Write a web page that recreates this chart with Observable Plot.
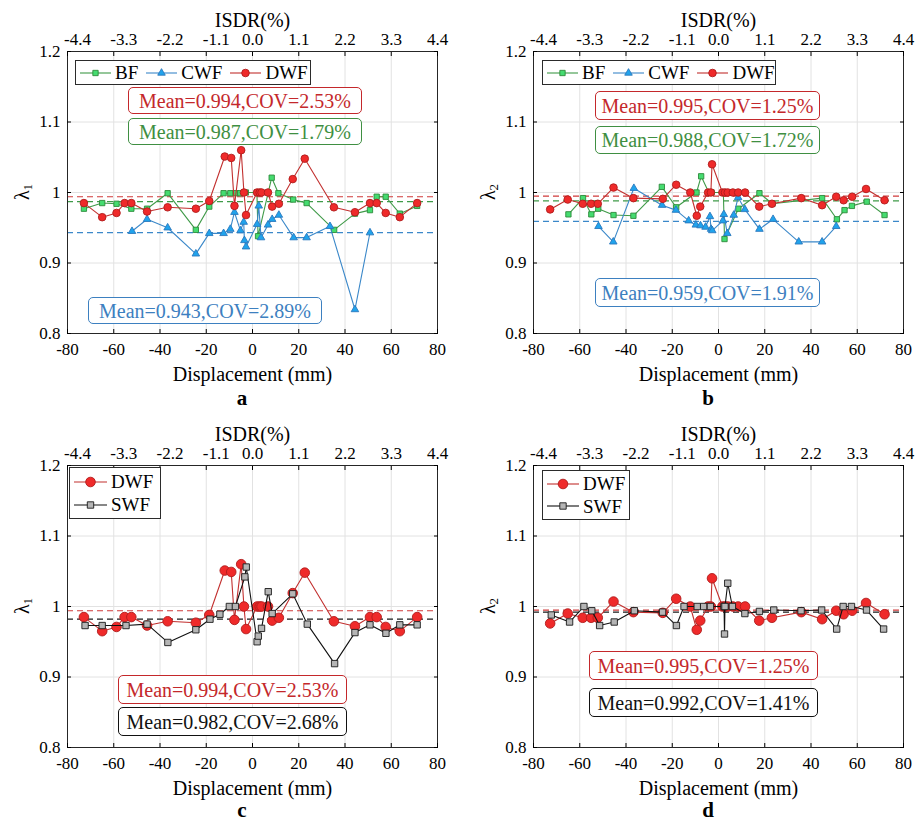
<!DOCTYPE html>
<html>
<head>
<meta charset="utf-8">
<script src="https://cdn.jsdelivr.net/npm/d3@7"></script>
<script src="https://cdn.jsdelivr.net/npm/@observablehq/plot@0.6"></script>
<style>
  body { margin: 0; background: #fff; }
  #fig { position: relative; width: 921px; height: 822px; background: #fff;
         font-family: "Liberation Serif", "Times New Roman", serif; color: #000; overflow: hidden; }
  #fig > svg { position: absolute; overflow: visible; }
  #fig > svg text { font-family: "Liberation Serif", "Times New Roman", serif !important; }
  .note { position: absolute; box-sizing: border-box; border: 1.5px solid; border-radius: 5px;
          background: #fff; font-size: 20px; line-height: 1; white-space: nowrap;
          display: flex; align-items: center; justify-content: center; }
  .legend { position: absolute; box-sizing: border-box; border: 1px solid #2b2b2b; background: #fff;
            display: flex; font-size: 19px; line-height: 1; padding-left: 3px; }
  .legend .item { display: flex; align-items: center; margin-right: 7px; }
  .legend .item svg { margin-right: 3px; }
  .ytitle { position: absolute; font-size: 20px; line-height: 1; transform: translate(-50%, -50%) rotate(-90deg); white-space: nowrap; }
  .ytitle sub { font-size: 13px; vertical-align: -3px; }
  .tag { position: absolute; font-size: 21px; line-height: 1; font-weight: bold; transform: translateX(-50%); }
</style>
</head>
<body>
<div id="fig"></div>
<script>
// Axis ticks shared by the four panels
const xTicks = [-80, -60, -40, -20, 0, 20, 40, 60, 80];
const isdrLabels = ["-4.4", "-3.3", "-2.2", "-1.1", "0.0", "1.1", "2.2", "3.3", "4.4"];
const yTicks = [0.8, 0.9, 1.0, 1.1, 1.2];
const yLabels = ["0.8", "0.9", "1", "1.1", "1.2"];

// λ1: ratio against displacement (mm)
const dwf1Disp = [-72.9, -65.0, -58.8, -55.3, -52.4, -45.6, -36.7, -24.5, -18.7, -12.0, -9.2, -7.8, -4.9, -3.7, -2.8, 2.0, 3.1, 3.9, 6.7, 8.5, 11.4, 17.4, 22.6, 35.2, 44.3, 50.8, 53.7, 57.6, 63.7, 71.2];
const dwf1Ratio = [0.985, 0.965, 0.971, 0.985, 0.985, 0.973, 0.979, 0.977, 0.988, 1.051, 1.049, 0.981, 1.060, 1.000, 0.968, 1.000, 1.000, 1.000, 1.000, 0.980, 0.984, 1.019, 1.048, 0.979, 0.972, 0.985, 0.985, 0.971, 0.965, 0.985];
const bf1Disp = [-72.9, -65.0, -58.8, -52.4, -45.6, -36.7, -24.5, -18.7, -12.5, -9.6, -7.2, -5.3, -2.9, 1.9, 2.4, 8.3, 11.2, 17.6, 23.4, 35.3, 44.3, 50.8, 53.7, 57.6, 63.7, 71.2];
const bf1Ratio = [0.977, 0.985, 0.984, 0.977, 0.977, 0.999, 0.947, 0.980, 0.999, 0.999, 0.999, 0.999, 1.000, 1.000, 0.938, 1.021, 0.999, 0.990, 0.985, 0.947, 0.970, 0.975, 0.994, 0.994, 0.970, 0.981];
const cwf1Disp = [-52.1, -45.6, -36.7, -24.5, -18.7, -12.5, -9.6, -7.8, -5.2, -3.8, -3.5, -2.8, 2.0, 2.7, 3.7, 6.7, 8.5, 11.4, 17.8, 23.4, 33.5, 44.3, 50.8];
const cwf1Ratio = [0.945, 0.962, 0.950, 0.913, 0.942, 0.942, 0.948, 0.972, 0.946, 0.958, 0.932, 0.923, 0.955, 0.981, 0.936, 0.954, 0.962, 0.968, 0.936, 0.936, 0.952, 0.834, 0.943];
const swf1Disp = [-72.4, -65.0, -54.7, -45.6, -36.6, -24.5, -18.4, -14.1, -10.0, -7.4, -3.3, -2.7, 2.0, 2.5, 3.9, 6.8, 8.5, 17.4, 23.7, 35.5, 44.3, 50.8, 57.7, 63.7, 71.2];
const swf1Ratio = [0.973, 0.973, 0.973, 0.975, 0.949, 0.967, 0.982, 0.989, 1.000, 1.000, 1.042, 1.056, 0.950, 0.958, 0.969, 1.021, 0.990, 1.018, 0.975, 0.919, 0.963, 0.974, 0.962, 0.974, 0.974];

// λ2: ratio against displacement (mm)
const dwf2Disp = [-72.8, -65.2, -58.7, -55.1, -52.2, -45.4, -36.8, -24.1, -18.3, -12.2, -9.4, -7.9, -4.5, -3.3, -2.8, 1.7, 2.8, 4.0, 6.2, 8.5, 11.5, 17.6, 23.1, 35.8, 44.8, 50.9, 54.1, 57.8, 63.8, 71.8];
const dwf2Ratio = [0.976, 0.990, 0.984, 0.984, 0.984, 1.007, 0.992, 0.991, 1.011, 1.000, 0.967, 0.980, 1.000, 1.000, 1.040, 1.000, 1.000, 1.000, 1.000, 1.000, 1.000, 0.980, 0.984, 0.992, 0.982, 0.994, 0.989, 0.994, 1.005, 0.989];
const bf2Disp = [-64.9, -58.6, -55.0, -52.0, -45.4, -36.8, -24.5, -18.3, -9.5, -7.5, -4.2, -3.0, 2.1, 2.6, 8.6, 17.7, 23.3, 44.8, 51.2, 54.5, 57.7, 64.1, 71.8];
const bf2Ratio = [0.969, 0.992, 0.969, 0.977, 0.968, 0.967, 1.008, 0.979, 1.000, 1.023, 1.000, 1.000, 1.000, 0.934, 0.977, 0.999, 0.984, 0.992, 0.962, 0.975, 0.981, 0.987, 0.968];
const cwf2Disp = [-51.9, -45.5, -36.6, -24.4, -18.4, -12.9, -9.8, -7.8, -5.6, -3.7, -3.2, -2.7, 1.9, 2.3, 3.8, 6.6, 8.5, 11.4, 17.7, 23.6, 34.7, 44.8, 50.9];
const cwf2Ratio = [0.952, 0.930, 1.006, 0.982, 0.975, 0.960, 0.954, 0.953, 0.951, 0.966, 0.948, 0.946, 0.960, 0.969, 0.942, 0.968, 0.993, 0.976, 0.948, 0.962, 0.930, 0.930, 0.952];
const swf2Disp = [-72.3, -64.4, -58.2, -54.8, -51.4, -45.1, -36.4, -24.2, -18.2, -14.9, -9.2, -6.4, -3.5, 2.4, 2.6, 2.8, 4.0, 6.0, 11.4, 17.7, 23.9, 35.7, 44.6, 51.1, 53.9, 57.5, 64.0, 71.4];
const swf2Ratio = [0.988, 0.978, 1.000, 0.994, 0.973, 0.978, 0.994, 0.992, 0.973, 1.000, 1.000, 1.000, 1.000, 1.000, 0.961, 1.000, 1.033, 1.000, 0.990, 0.993, 0.995, 0.994, 0.995, 0.968, 1.000, 1.000, 0.995, 0.968];

// Summary statistics, in the order BF, CWF, DWF, SWF
const seriesNames = ["BF", "CWF", "DWF", "SWF"];
const mean1 = [0.987, 0.943, 0.994, 0.982];
const cov1 = [1.79, 2.89, 2.53, 2.68];
const mean2 = [0.988, 0.959, 0.995, 0.992];
const cov2 = [1.72, 1.91, 1.25, 1.41];

// Drawing styles for each wall type
const look = {
  BF:  {symbol: "square",   fill: "#45dc70", stroke: "#2c8a3a", line: "#3f9a48", dash: "#3f9a48", text: "#3f8f42"},
  CWF: {symbol: "triangle", fill: "#20a3ec", stroke: "#2a78bd", line: "#3b88c9", dash: "#3b88c9", text: "#3d80c0"},
  DWF: {symbol: "circle",   fill: "#ef2a2a", stroke: "#b01c1c", line: "#c2302f", dash: "#d03a3a", text: "#c4282b"},
  SWF: {symbol: "square",   fill: "#b5b5b5", stroke: "#1a1a1a", line: "#111111", dash: "#1a1a1a", text: "#111111"}
};
const d3Symbols = {square: d3.symbolSquare, triangle: d3.symbolTriangle, circle: d3.symbolCircle};
const serif = '"Liberation Serif", "Times New Roman", serif';

const fig = document.getElementById("fig");
const fmt = (m, c) => `Mean=${m.toFixed(3)},COV=${c.toFixed(2)}%`;
const labelOf = (ticks, labels) => d => labels[ticks.findIndex(t => Math.abs(t - d) < 1e-9)];

function drawPanel(p) {
  const marks = [
    Plot.gridX(xTicks, {stroke: "#e2e2e2", strokeOpacity: 1}),
    Plot.gridY(yTicks, {stroke: "#e2e2e2", strokeOpacity: 1})
  ];
  for (const s of p.series) {
    marks.push(Plot.ruleY([s.mean], {stroke: look[s.name].dash, strokeWidth: 1.2, strokeDasharray: "6,4"}));
  }
  for (const s of p.series) {
    const rows = s.disp.map((d, i) => ({d, r: s.ratio[i]}));
    const st = look[s.name];
    marks.push(Plot.line(rows, {x: "d", y: "r", stroke: st.line, strokeWidth: 1.1}));
    marks.push(Plot.dot(rows, {x: "d", y: "r", symbol: st.symbol, r: s.size, fill: st.fill, stroke: st.stroke, strokeWidth: 0.9}));
  }
  const tickText = {fontFamily: serif, fontSize: 17, fontVariant: "normal"};
  const isdr = labelOf(xTicks, isdrLabels);
  marks.push(
    Plot.frame({stroke: "#262626", strokeWidth: 1}),
    Plot.axisX(xTicks, {anchor: "bottom", tickSize: -4, tickPadding: 13, tickFormat: d => String(d), label: null, ...tickText}),
    // top ISDR axis: inward ticks, then the labels (negative ones sit a little right of their ticks)
    Plot.axisX(xTicks, {anchor: "top", tickSize: -4, tickFormat: () => "", label: null}),
    Plot.axisX(xTicks.filter(d => d < 0), {anchor: "top", tickSize: 0, tickPadding: 7, dx: 10, tickFormat: isdr, label: null, ...tickText}),
    Plot.axisX(xTicks.filter(d => d >= 0), {anchor: "top", tickSize: 0, tickPadding: 7, tickFormat: isdr, label: null, ...tickText}),
    Plot.axisY(yTicks, {anchor: "left", tickSize: -4, tickPadding: 11, tickFormat: labelOf(yTicks, yLabels), label: null, ...tickText}),
    Plot.axisY(yTicks, {anchor: "right", tickSize: -4, tickFormat: () => "", label: null}),
    Plot.text(["Displacement (mm)"], {text: d => d, frameAnchor: "bottom", dy: 41, fontSize: 20, fontFamily: serif, lineAnchor: "middle"}),
    Plot.text(["ISDR(%)"], {text: d => d, frameAnchor: "top", dy: -31, fontSize: 20, fontFamily: serif, lineAnchor: "middle"})
  );
  const svg = Plot.plot({
    width: p.width, height: p.height,
    marginLeft: p.ml, marginRight: p.mr, marginTop: p.mt, marginBottom: p.mb,
    style: {background: "transparent", color: "#000"},
    x: {domain: [-80, 80]},
    y: {domain: [0.8, 1.2]},
    marks
  });
  svg.style.left = p.left + "px";
  svg.style.top = p.top + "px";
  fig.append(svg);

  // y title with subscript
  const yt = document.createElement("div");
  yt.className = "ytitle";
  yt.innerHTML = `λ<sub>${p.sub}</sub>`;
  yt.style.left = (p.left + p.ml - 44) + "px";
  yt.style.top = (p.top + p.mt + (p.height - p.mt - p.mb) / 2) + "px";
  fig.append(yt);

  // panel tag
  const tg = document.createElement("div");
  tg.className = "tag";
  tg.textContent = p.tag;
  tg.style.left = p.tagX + "px";
  tg.style.top = p.tagY + "px";
  fig.append(tg);

  // legend
  const lg = document.createElement("div");
  lg.className = "legend";
  Object.assign(lg.style, {left: p.legend.x + "px", top: p.legend.y + "px", width: p.legend.w + "px",
    height: p.legend.h + "px", flexDirection: p.legend.dir,
    alignItems: p.legend.dir === "row" ? "center" : "flex-start",
    justifyContent: p.legend.dir === "row" ? "flex-start" : "space-evenly"});
  for (const s of p.series) {
    const st = look[s.name];
    const item = document.createElement("div");
    item.className = "item";
    const g = d3.create("svg").attr("width", p.legend.line + 2).attr("height", 14);
    g.append("line").attr("x1", 1).attr("x2", p.legend.line + 1).attr("y1", 7).attr("y2", 7)
      .attr("stroke", st.line).attr("stroke-width", 1.1);
    g.append("path").attr("transform", `translate(${p.legend.line / 2 + 1},7)`)
      .attr("d", d3.symbol(d3Symbols[st.symbol], Math.PI * s.size * s.size)())
      .attr("fill", st.fill).attr("stroke", st.stroke).attr("stroke-width", 0.9);
    item.append(g.node());
    const t = document.createElement("span");
    t.textContent = s.name;
    item.append(t);
    lg.append(item);
  }
  fig.append(lg);

  // mean / COV notes
  for (const n of p.notes) {
    const s = p.series.find(q => q.name === n.name);
    const box = document.createElement("div");
    box.className = "note";
    box.textContent = fmt(s.mean, s.cov);
    Object.assign(box.style, {left: n.x + "px", top: n.y + "px", width: n.w + "px", height: n.h + "px",
      color: look[n.name].text, borderColor: look[n.name].text});
    fig.append(box);
  }
}

const idx = name => seriesNames.indexOf(name);
const mk = (name, disp, ratio, means, covs, size) => ({name, disp, ratio, mean: means[idx(name)], cov: covs[idx(name)], size});

// a: λ1, BF / CWF / DWF
drawPanel({
  left: 0, top: 0, width: 460, height: 411, ml: 67, mr: 23, mt: 51, mb: 78, sub: 1, tag: "a", tagX: 242, tagY: 388,
  series: [mk("BF", bf1Disp, bf1Ratio, mean1, cov1, 3.0), mk("CWF", cwf1Disp, cwf1Ratio, mean1, cov1, 2.8), mk("DWF", dwf1Disp, dwf1Ratio, mean1, cov1, 3.8)],
  legend: {x: 75, y: 60, w: 236, h: 25, dir: "row", line: 31},
  notes: [{name: "DWF", x: 128, y: 87, w: 234, h: 27}, {name: "BF", x: 128, y: 118, w: 234, h: 27}, {name: "CWF", x: 88, y: 297, w: 234, h: 27}]
});
// b: λ2, BF / CWF / DWF
drawPanel({
  left: 460, top: 0, width: 461, height: 411, ml: 73, mr: 18, mt: 51, mb: 78, sub: 2, tag: "b", tagX: 708, tagY: 388,
  series: [mk("BF", bf2Disp, bf2Ratio, mean2, cov2, 3.0), mk("CWF", cwf2Disp, cwf2Ratio, mean2, cov2, 2.8), mk("DWF", dwf2Disp, dwf2Ratio, mean2, cov2, 3.8)],
  legend: {x: 542, y: 60, w: 234, h: 25, dir: "row", line: 31},
  notes: [{name: "DWF", x: 595, y: 91, w: 225, h: 29}, {name: "BF", x: 595, y: 126, w: 225, h: 28}, {name: "CWF", x: 595, y: 278, w: 225, h: 29}]
});
// c: λ1, DWF / SWF
drawPanel({
  left: 0, top: 411, width: 460, height: 411, ml: 67, mr: 23, mt: 54, mb: 75, sub: 1, tag: "c", tagX: 242, tagY: 800,
  series: [mk("DWF", dwf1Disp, dwf1Ratio, mean1, cov1, 4.8), mk("SWF", swf1Disp, swf1Ratio, mean1, cov1, 3.6)],
  legend: {x: 69, y: 467, w: 92, h: 52, dir: "column", line: 33},
  notes: [{name: "DWF", x: 118, y: 675, w: 229, h: 29}, {name: "SWF", x: 118, y: 707, w: 229, h: 29}]
});
// d: λ2, DWF / SWF
drawPanel({
  left: 460, top: 411, width: 461, height: 411, ml: 73, mr: 18, mt: 54, mb: 75, sub: 2, tag: "d", tagX: 708, tagY: 800,
  series: [mk("DWF", dwf2Disp, dwf2Ratio, mean2, cov2, 4.8), mk("SWF", swf2Disp, swf2Ratio, mean2, cov2, 3.6)],
  legend: {x: 542, y: 470, w: 88, h: 50, dir: "column", line: 32},
  notes: [{name: "DWF", x: 589, y: 651, w: 229, h: 29}, {name: "SWF", x: 589, y: 688, w: 229, h: 29}]
});
</script>
</body>
</html>
